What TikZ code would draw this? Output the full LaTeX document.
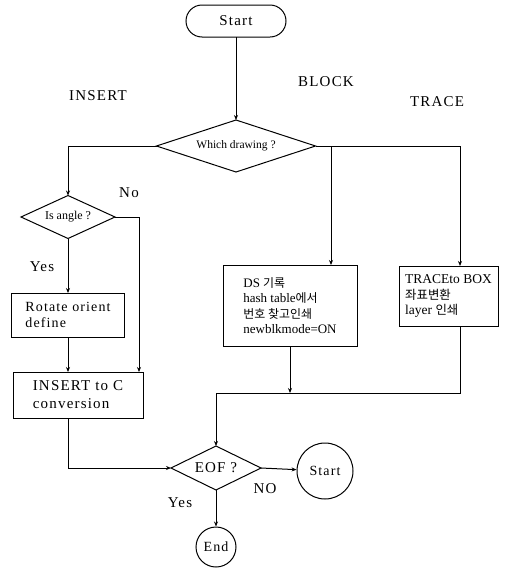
\documentclass[tikz,border=0pt]{standalone}
\usepackage{fontspec}
\setmainfont{Liberation Serif}
\newfontfamily\spaced[LetterSpace=8]{Liberation Serif}
\newfontfamily\kor[Scale=0.92]{Noto Sans CJK KR}
\usetikzlibrary{arrows.meta,shapes.geometric,positioning}
\tikzset{
	box/.style={draw, line width=1pt, outer sep=0, inner sep=0, align=left},
	decide/.style={draw, diamond, line width=1pt, inner sep=0, outer sep=0, aspect=2},
	lbl/.style={font=\fontsize{15}{15}\spaced},
}

\begin{document}
\begin{tikzpicture}[x=1pt,y=-1pt,->,>={Stealth[length=5pt,width=4pt]},line width=1pt]
	\useasboundingbox (0,0) rectangle (514,568);
	\node[box, rounded corners=16pt, minimum width=100pt, minimum height=32pt, font=\fontsize{15}{15}\spaced] (start) at (236,21) {Start};
	\node[decide, minimum width=159pt, minimum height=52pt, font=\fontsize{11.5}{12}\selectfont] (which) at (236,146) {Which drawing ?};
	\node[decide, minimum width=94pt, minimum height=43pt, font=\fontsize{12}{12}\selectfont] (angle) at (68,217) {Is angle ?};
	\node[box, minimum width=113pt, minimum height=44pt, font=\fontsize{14}{16}\spaced] (rot) at (68,315) {Rotate orient\\define};
	\node[box, minimum width=130pt, minimum height=46pt, font=\fontsize{15}{18}\spaced] (ins) at (78,395) {INSERT to C\\conversion};
	\node[box, minimum width=134pt, minimum height=81pt, font=\fontsize{13}{15.5}\selectfont] (ds) at (290,305.5) {DS {\kor 기록}\\hash table{\kor 에서}\\{\kor 번호 찾고인쇄}\\newblkmode=ON};
	\node[box, minimum width=99pt, minimum height=60pt, font=\fontsize{13.5}{15.5}\selectfont] (trace) at (448.5,296) {TRACEto BOX\\{\kor 좌표변환}\\layer {\kor 인쇄}};
	\node[decide, minimum width=90pt, minimum height=44pt, font=\fontsize{15}{15}\spaced] (eof) at (216,468) {EOF ?};
	\node[draw, circle, inner sep=0, minimum size=56pt, font=\fontsize{14}{14}\spaced] (again) at (325,471) {Start};
	\node[draw, circle, inner sep=0, minimum size=40pt, font=\fontsize{14}{14}\spaced] (end) at (216,547) {End};

	\node[lbl] (lins) at (98,96) {INSERT};
	\node[lbl] (lblk) at (326,82) {BLOCK};
	\node[lbl] (ltr) at (437,102) {TRACE};
	\node[lbl] (lno) at (129,193) {No};
	\node[lbl] (lyes) at (42,267) {Yes};
	\node[lbl] (lno2) at (265,489) {NO};
	\node[lbl] (lyes2) at (180,503) {Yes};

	\coordinate (bl) at (331,146);
	\coordinate (tr) at (460,146);
	\coordinate (no) at (139,217);
	\coordinate (mg) at (216,393);

	\draw (start) -- (which);
	\draw (which.west) -| (angle.north);
	\draw[-] (which.east) -- (tr);
	\draw (bl) -- (bl |- ds.north);
	\draw (tr) -- (tr |- trace.north);
	\draw[-] (angle.east) -- (no);
	\draw (no) -- (no |- ins.north);
	\draw (angle) -- (rot);
	\draw (rot.south) -- (rot.south |- ins.north);
	\draw (rot.south |- ins.south) |- (eof.west);
	\draw (ds.south) -- (ds.south |- mg);
	\draw[-] (tr |- trace.south) |- (mg);
	\draw (mg) -- (eof.north);
	\draw (eof.east) -- (again);
	\draw (eof.south) -- (end);
\end{tikzpicture}
\end{document}
